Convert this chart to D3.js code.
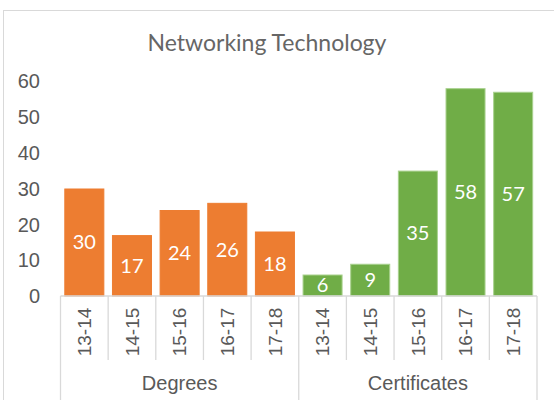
<!DOCTYPE html>
<html lang="en">
<head>
  <meta charset="UTF-8">
  <title>Networking Technology</title>
  <script src="https://d3js.org/d3.v7.min.js"></script>
  <style>
    body { margin: 0; background: #fff; }
  </style>
</head>
<body>
  <svg width="554" height="400"></svg>

  <script>
    // values
    const groups = ["Degrees", "Certificates"];
    const years = ["13-14", "14-15", "15-16", "16-17", "17-18"];
    const degrees = [30, 17, 24, 26, 18];
    const certificates = [6, 9, 35, 58, 57];
    const yTicks = [0, 10, 20, 30, 40, 50, 60];

    const svg = d3.select("svg");
    const gray = "#595959";
    const lineGray = "#d9d9d9";

    // chart frame
    svg.append("rect")
       .attr("x", 3.5).attr("y", 10.5)
       .attr("width", 560).attr("height", 400)
       .attr("fill", "#fff")
       .attr("stroke", lineGray);

    // title
    svg.append("text")
       .attr("x", 267).attr("y", 51)
       .attr("text-anchor", "middle")
       .attr("font-family", "Lato")
       .attr("font-size", 23)
       .attr("fill", "#666")
       .text("Networking Technology");

    // rows: one per bar
    const rows = [];
    years.forEach((yr, i) => rows.push({ key: "d" + i, year: yr, group: groups[0], value: degrees[i] }));
    years.forEach((yr, i) => rows.push({ key: "c" + i, year: yr, group: groups[1], value: certificates[i] }));

    const x = d3.scaleBand()
                .domain(rows.map(d => d.key))
                .range([60.5, 537])
                .paddingInner(0.16)
                .paddingOuter(0.08);

    const y = d3.scaleLinear().domain([0, 60]).range([296, 81]);

    const color = d3.scaleOrdinal().domain(groups).range(["#ED7D31", "#70AD47"]);
    const edge = d3.scaleOrdinal().domain(groups).range(["#ED7D31", "#A9D18E"]);

    // y axis labels (no line, no gridlines)
    svg.append("g")
       .selectAll("text")
       .data(yTicks)
       .enter().append("text")
       .attr("x", 40)
       .attr("y", d => y(d))
       .attr("dy", "0.36em")
       .attr("text-anchor", "end")
       .attr("font-family", "Liberation Sans, Arial")
       .attr("font-size", 20)
       .attr("fill", gray)
       .text(d => d);

    // bars
    const bars = svg.append("g")
                    .selectAll("g")
                    .data(rows)
                    .enter().append("g");

    bars.append("rect")
        .attr("x", d => x(d.key) + 0.5)
        .attr("y", d => y(d.value) + 0.5)
        .attr("width", x.bandwidth() - 1)
        .attr("height", d => y(0) - y(d.value) - 0.5)
        .attr("fill", d => color(d.group))
        .attr("stroke", d => edge(d.group))
        .attr("stroke-width", 1);

    // value labels in the middle of each bar
    bars.append("text")
        .attr("x", d => x(d.key) + x.bandwidth() / 2)
        .attr("y", d => (y(0) + y(d.value)) / 2)
        .attr("dy", "0.36em")
        .attr("text-anchor", "middle")
        .attr("font-family", "Lato")
        .attr("font-size", 20)
        .attr("fill", "#fff")
        .text(d => d.value);

    // category axis
    const axis = svg.append("g").attr("stroke", lineGray).attr("stroke-width", 1.3);
    const step = x.step();
    const left = x.range()[0];

    axis.append("line")
        .attr("x1", left).attr("x2", x.range()[1])
        .attr("y1", y(0)).attr("y2", y(0));

    // separators between bars; group edges run to the bottom
    d3.range(rows.length + 1).forEach(i => {
      const isEdge = i % years.length === 0;
      axis.append("line")
          .attr("x1", left + i * step).attr("x2", left + i * step)
          .attr("y1", y(0)).attr("y2", isEdge ? 400 : 360);
    });

    // year labels, rotated
    svg.append("g")
       .selectAll("text")
       .data(rows)
       .enter().append("text")
       .attr("transform", d => "translate(" + (x(d.key) + x.bandwidth() / 2) + ",332) rotate(-90)")
       .attr("dy", "0.35em")
       .attr("text-anchor", "middle")
       .attr("font-family", "Liberation Sans, Arial")
       .attr("font-size", 19)
       .attr("fill", gray)
       .text(d => d.year);

    // group labels
    svg.append("g")
       .selectAll("text")
       .data(groups)
       .enter().append("text")
       .attr("x", (d, i) => left + (i * years.length + years.length / 2) * step)
       .attr("y", 390)
       .attr("text-anchor", "middle")
       .attr("font-family", "Liberation Sans, Arial")
       .attr("font-size", 20)
       .attr("fill", gray)
       .text(d => d);
  </script>
</body>
</html>
